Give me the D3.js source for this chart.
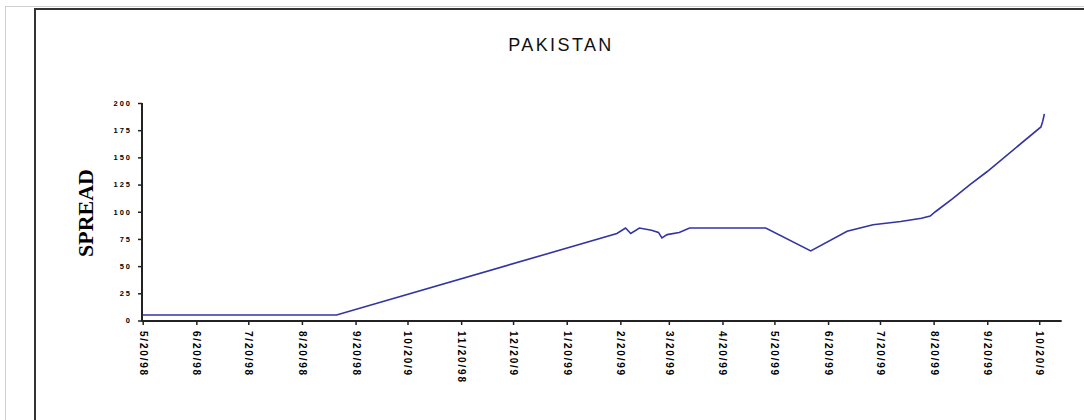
<!DOCTYPE html>
<html>
<head>
<meta charset="utf-8">
<script src="https://cdn.jsdelivr.net/npm/d3@7"></script>
<style>
  html, body { margin: 0; padding: 0; background: #ffffff; }
  svg { display: block; }
</style>
</head>
<body>
<svg id="chart" width="1084" height="420"></svg>
<script>
const title = "PAKISTAN";
const yLabel = "SPREAD";

const dates = [
  "1998-05-20", "1998-09-09", "1999-02-18", "1999-02-23", "1999-02-26",
  "1999-03-03", "1999-03-10", "1999-03-14", "1999-03-16", "1999-03-19",
  "1999-03-26", "1999-04-01", "1999-05-15", "1999-06-10", "1999-07-01",
  "1999-07-16", "1999-08-01", "1999-08-13", "1999-08-18", "1999-08-21",
  "1999-08-31", "1999-09-10", "1999-09-20", "1999-10-21", "1999-10-22",
  "1999-10-23"
];
const spread = [
  5, 5, 80, 85, 80,
  85, 83, 81, 76, 79,
  81, 85, 85, 64, 82,
  88, 91, 94, 96, 100,
  112, 125, 137, 178, 183,
  190
];

const tickDates = [
  "1998-05-20", "1998-06-20", "1998-07-20", "1998-08-20", "1998-09-20",
  "1998-10-20", "1998-11-20", "1998-12-20", "1999-01-20", "1999-02-20",
  "1999-03-20", "1999-04-20", "1999-05-20", "1999-06-20", "1999-07-20",
  "1999-08-20", "1999-09-20", "1999-10-20"
];
const tickLabels = [
  "5/20/98", "6/20/98", "7/20/98", "8/20/98", "9/20/98",
  "10/20/9", "11/20/98", "12/20/9", "1/20/99", "2/20/99",
  "3/20/99", "4/20/99", "5/20/99", "6/20/99", "7/20/99",
  "8/20/99", "9/20/99", "10/20/9"
];
const yTicks = [0, 25, 50, 75, 100, 125, 150, 175, 200];
const xDomain = ["1998-05-20", "1999-11-02"];

const parse = d3.timeParse("%Y-%m-%d");
const data = dates.map((d, i) => ({ date: parse(d), value: spread[i] }));

const svg = d3.select("#chart");

// outer frames
svg.append("rect").attr("x", 5.5).attr("y", 6.5).attr("width", 1100).attr("height", 430)
  .attr("fill", "none").attr("stroke", "#cfcfcf").attr("stroke-width", 1);
svg.append("rect").attr("x", 35).attr("y", 9).attr("width", 1080).attr("height", 430)
  .attr("fill", "#ffffff").attr("stroke", "#333333").attr("stroke-width", 2);

const x = d3.scaleTime()
  .domain(xDomain.map(parse))
  .range([142.7, 1061.7]);
const y = d3.scaleLinear()
  .domain([0, 200])
  .range([320.5, 103]);

// title
svg.append("text")
  .attr("x", 561).attr("y", 51)
  .attr("text-anchor", "middle")
  .attr("font-family", "Liberation Sans, Arial, sans-serif")
  .attr("font-size", 18)
  .attr("letter-spacing", 2.4)
  .attr("fill", "#111")
  .text(title);

// y label
svg.append("text")
  .attr("transform", "translate(93,213) rotate(-90)")
  .attr("text-anchor", "middle")
  .attr("font-family", "Liberation Serif, Times New Roman, serif")
  .attr("font-weight", "bold")
  .attr("font-size", 22)
  .attr("fill", "#000")
  .text(yLabel);

// y axis
const yAxis = d3.axisLeft(y).tickValues(yTicks).tickSize(4).tickPadding(6);
const gy = svg.append("g").attr("transform", "translate(142,0)").call(yAxis);
gy.select(".domain").attr("stroke", "#222").attr("stroke-width", 2)
  .attr("d", `M0,${y(200)}V${y(0) + 1}`);
gy.selectAll(".tick line").attr("stroke", "#222").attr("stroke-width", 1.5);
gy.selectAll(".tick text")
  .attr("font-family", "Liberation Sans, Arial, sans-serif")
  .attr("font-weight", "bold")
  .attr("font-size", 7.5)
  .attr("letter-spacing", 2)
  .attr("fill", "#000");

// x axis
const tickParsed = tickDates.map(parse);
const xAxis = d3.axisBottom(x).tickValues(tickParsed).tickSize(4)
  .tickFormat((d, i) => tickLabels[i]);
const gx = svg.append("g").attr("transform", "translate(0,321)").call(xAxis);
gx.select(".domain").attr("stroke", "#222").attr("stroke-width", 2)
  .attr("d", `M${x.range()[0] - 1},0H${x.range()[1]}`);
gx.selectAll(".tick line").attr("stroke", "#222").attr("stroke-width", 1.5);
gx.selectAll(".tick text")
  .attr("font-family", "Liberation Sans, Arial, sans-serif")
  .attr("font-weight", "bold")
  .attr("font-size", 10)
  .attr("letter-spacing", 1.8)
  .attr("fill", "#000")
  .attr("text-anchor", "start")
  .attr("dy", null)
  .attr("y", null)
  .attr("transform", "translate(-3.5,10) rotate(90)");

// line
const line = d3.line().x(d => x(d.date)).y(d => y(d.value));
svg.append("path")
  .datum(data)
  .attr("fill", "none")
  .attr("stroke", "#3333a3")
  .attr("stroke-width", 1.6)
  .attr("d", line);
</script>
</body>
</html>
